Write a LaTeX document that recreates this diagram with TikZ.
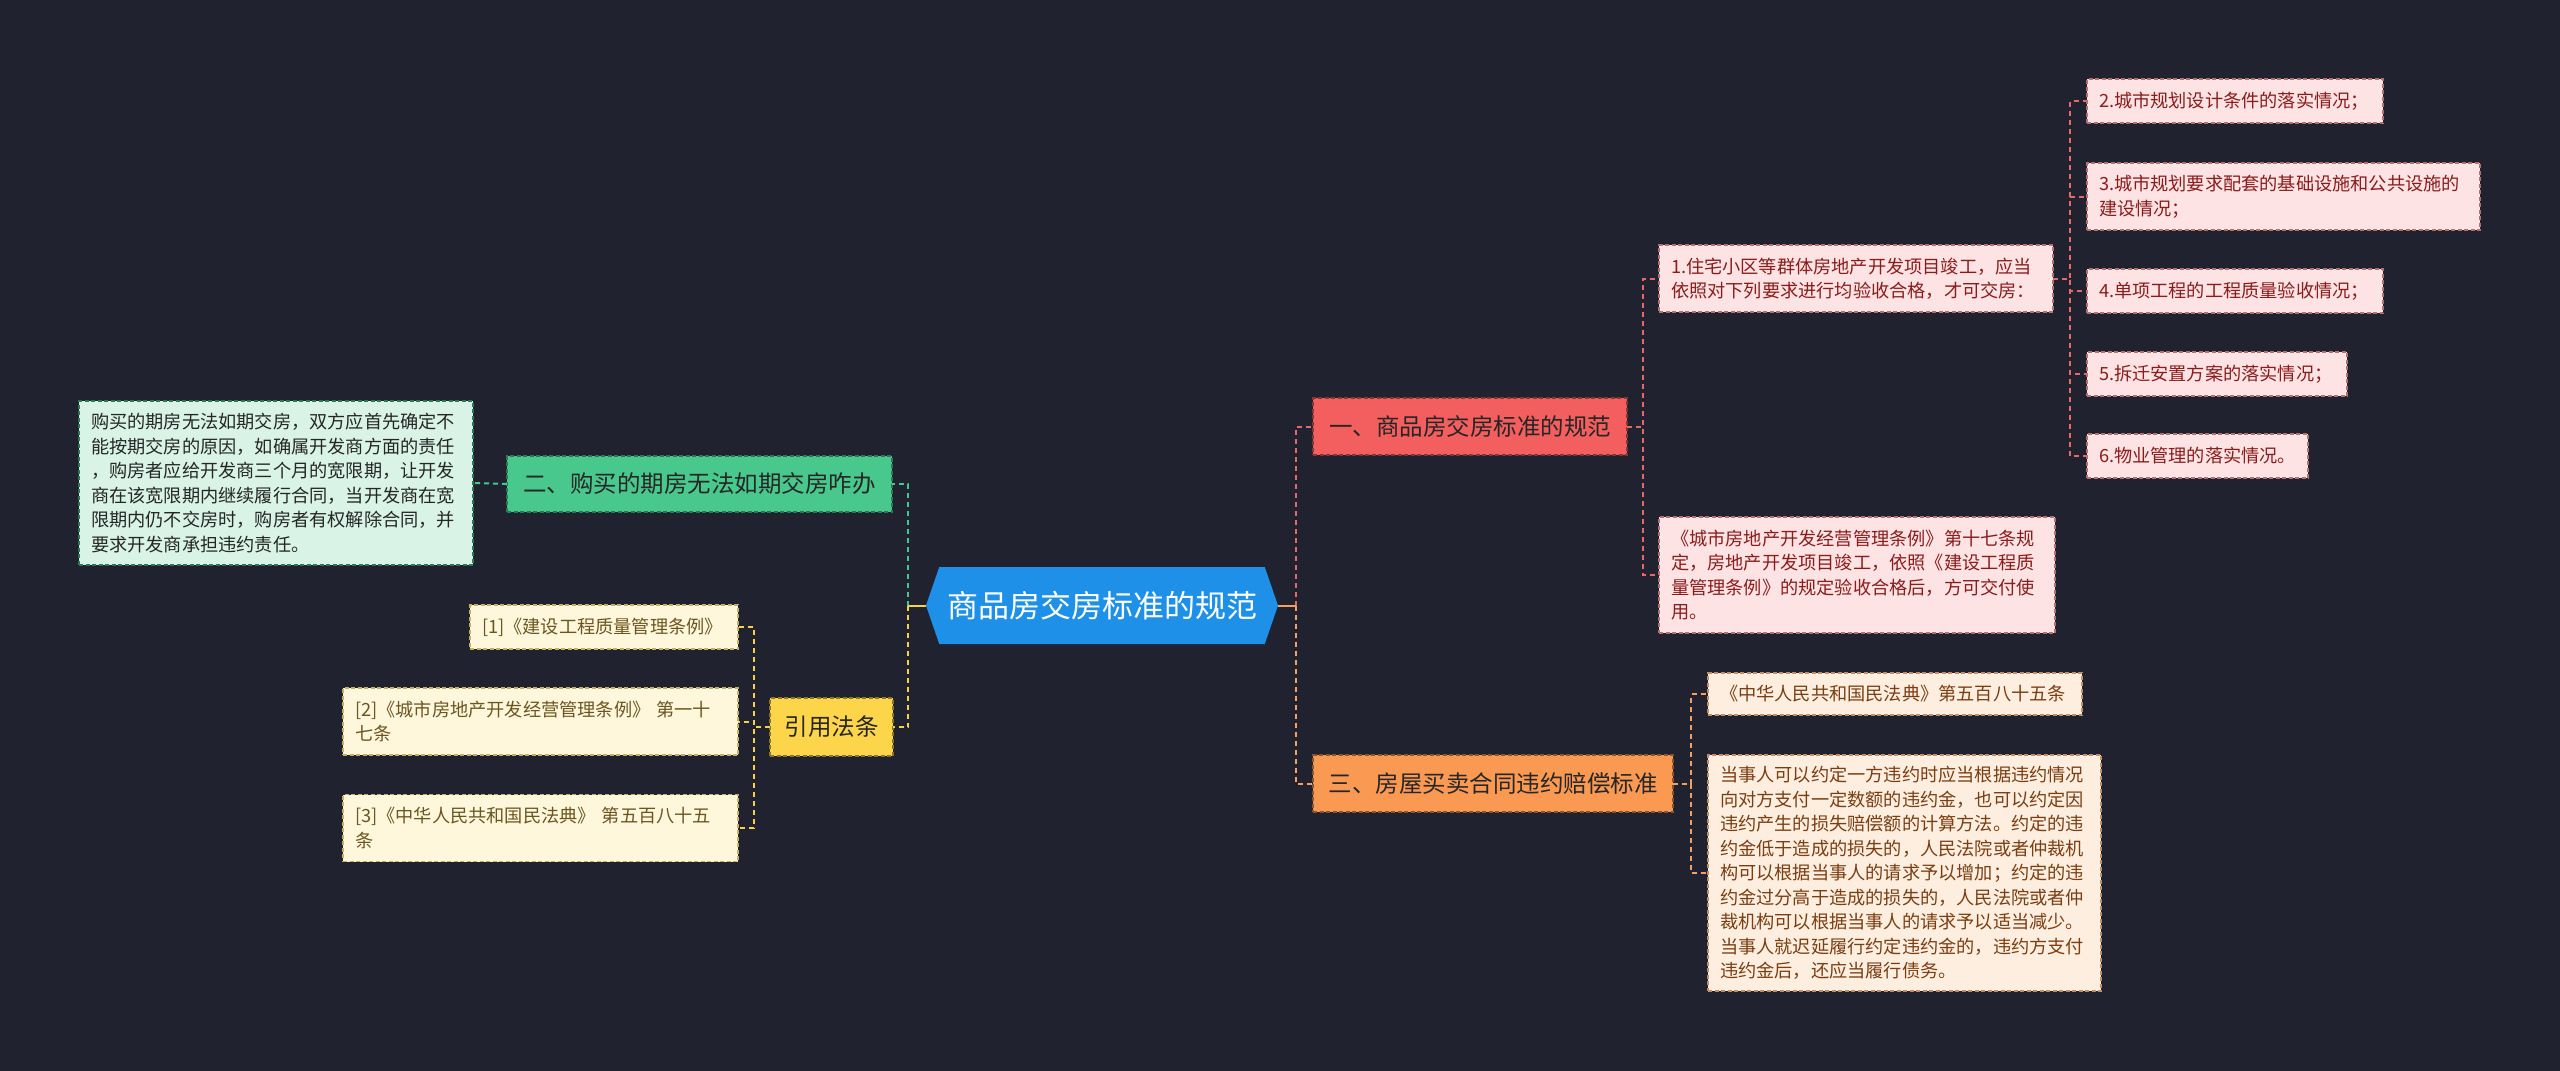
\documentclass[tikz,border=0pt]{standalone}
\usepackage{fontspec}
\setmainfont{Noto Sans CJK SC}
\usetikzlibrary{shapes.symbols}
\definecolor{bgc}{HTML}{20232F}
\definecolor{rootc}{HTML}{1E90E8}
\definecolor{gC}{HTML}{48C88C}
\definecolor{gL}{HTML}{D9F4E7}
\definecolor{rC}{HTML}{F35E5E}
\definecolor{rL}{HTML}{FDE3E3}
\definecolor{rT}{HTML}{8A1C1C}
\definecolor{oC}{HTML}{FA9A52}
\definecolor{oL}{HTML}{FDEEDF}
\definecolor{oT}{HTML}{7A3E12}
\definecolor{yC}{HTML}{FDD54A}
\definecolor{yL}{HTML}{FFF7DC}
\definecolor{yT}{HTML}{6B5620}
\definecolor{rLine}{HTML}{E86868}
\definecolor{oLine}{HTML}{F4A060}
\definecolor{gLine}{HTML}{40C98A}
\definecolor{yLine}{HTML}{F5D24A}
\begin{document}
\begin{tikzpicture}[x=1pt,y=-1pt,
  box/.style={rectangle, inner sep=0pt, outer sep=0pt, line width=1.2pt, dash pattern=on 4pt off 2.5pt},
  lone/.style={box, font=\fontsize{23.5}{28}\selectfont, text=black!85},
  ltwo/.style={box, font=\fontsize{18.2}{24.5}\selectfont, align=left, inner xsep=12pt},
  conn/.style={line width=2pt, dash pattern=on 5pt off 4pt},
  gbox/.style={ltwo, fill=gL, draw=gC!60!black, text=black!85},
  rbox/.style={ltwo, fill=rL, draw=rC!45!gray, text=rT},
  obox/.style={ltwo, fill=oL, draw=oC!55!gray, text=oT},
  ybox/.style={ltwo, fill=yL, draw=yC!55!gray, text=yT}
]
\fill[bgc] (0,0) rectangle (2560,1071);
\useasboundingbox (0,0) rectangle (2560,1071);

% root
\node[shape=signal, signal to=east and west, signal pointer angle=142, fill=rootc,
  minimum width=352pt, minimum height=77pt, inner sep=0pt, outer sep=0pt, text=white,
  font=\fontsize{31}{36}\selectfont] (root) at (1102,605.5) {商品房交房标准的规范};

% level 1
\node[lone, fill=gC, draw=gC!60!black, minimum width=385pt, minimum height=56pt] (g1) at (699.5,484) {二、购买的期房无法如期交房咋办};
\node[lone, fill=rC, draw=rC!55!black, minimum width=314pt, minimum height=57pt] (r1) at (1470,426.5) {一、商品房交房标准的规范};
\node[lone, fill=oC, draw=oC!55!black, minimum width=360pt, minimum height=57pt] (o1) at (1493,783.5) {三、房屋买卖合同违约赔偿标准};
\node[lone, fill=yC, draw=yC!55!black, minimum width=123pt, minimum height=58pt] (y1) at (831.5,727) {引用法条};

% green child
\node[gbox, text width=370pt, minimum height=164pt] (gd) at (276,483) {购买的期房无法如期交房，双方应首先确定不\\能按期交房的原因，如确属开发商方面的责任\\，购房者应给开发商三个月的宽限期，让开发\\商在该宽限期内继续履行合同，当开发商在宽\\限期内仍不交房时，购房者有权解除合同，并\\要求开发商承担违约责任。};

% red children
\node[rbox, text width=370pt, minimum height=67pt] (r2a) at (1856,278.5) {1.住宅小区等群体房地产开发项目竣工，应当\\依照对下列要求进行均验收合格，才可交房：};
\node[rbox, text width=372pt, minimum height=116pt] (r2b) at (1857,575) {《城市房地产开发经营管理条例》第十七条规\\定，房地产开发项目竣工，依照《建设工程质\\量管理条例》的规定验收合格后，方可交付使\\用。};
\node[rbox, text width=272pt, minimum height=44pt] (r3a) at (2235,101) {2.城市规划设计条件的落实情况；};
\node[rbox, text width=369pt, minimum height=67pt] (r3b) at (2283.5,196.5) {3.城市规划要求配套的基础设施和公共设施的\\建设情况；};
\node[rbox, text width=272pt, minimum height=44pt] (r3c) at (2235,291) {4.单项工程的工程质量验收情况；};
\node[rbox, text width=236pt, minimum height=44pt] (r3d) at (2217,374) {5.拆迁安置方案的落实情况；};
\node[rbox, text width=197pt, minimum height=44pt] (r3e) at (2197.5,456) {6.物业管理的落实情况。};

% orange children
\node[obox, text width=350pt, minimum height=42pt] (o2a) at (1895,694) {《中华人民共和国民法典》第五百八十五条};
\node[obox, text width=369pt, minimum height=236pt] (o2b) at (1904.5,873) {当事人可以约定一方违约时应当根据违约情况\\向对方支付一定数额的违约金，也可以约定因\\违约产生的损失赔偿额的计算方法。约定的违\\约金低于造成的损失的，人民法院或者仲裁机\\构可以根据当事人的请求予以增加；约定的违\\约金过分高于造成的损失的，人民法院或者仲\\裁机构可以根据当事人的请求予以适当减少。\\当事人就迟延履行约定违约金的，违约方支付\\违约金后，还应当履行债务。};

% yellow children
\node[ybox, text width=244pt, minimum height=44pt] (y2a) at (604,627) {[1]《建设工程质量管理条例》};
\node[ybox, text width=371pt, minimum height=67pt] (y2b) at (540.5,721.5) {[2]《城市房地产开发经营管理条例》 第一十\\七条};
\node[ybox, text width=371pt, minimum height=67pt] (y2c) at (540.5,828) {[3]《中华人民共和国民法典》 第五百八十五\\条};

% junctions
\coordinate (jl) at (908,605.5);
\coordinate (jr) at (1296,605.5);

% connectors from root
\draw[conn, gLine] (jl) |- (g1.east);
\draw[conn, yLine] (jl) |- (y1.east);
\draw[line width=2pt, yLine] (root.west) -- (jl);
\draw[conn, rLine] (jr) |- (r1.west);
\draw[conn, oLine] (jr) |- (o1.west);
\draw[line width=2pt, oLine] (root.east) -- (jr);

% green
\draw[conn, gLine] (g1.west) -- (gd.east);

% red
\draw[conn, rLine] (r1.east) -- ++(16,0) |- (r2a.west);
\draw[conn, rLine] (r1.east) -- ++(16,0) |- (r2b.west);
\foreach \n in {r3a,r3b,r3c,r3d,r3e}
  \draw[conn, rLine] (r2a.east) -- ++(17,0) |- (\n.west);

% orange
\draw[conn, oLine] (o1.east) -- ++(18,0) |- (o2a.west);
\draw[conn, oLine] (o1.east) -- ++(18,0) |- (o2b.west);

% yellow
\foreach \n in {y2a,y2b,y2c}
  \draw[conn, yLine] (y1.west) -- ++(-16,0) |- (\n.east);
\end{tikzpicture}
\end{document}
